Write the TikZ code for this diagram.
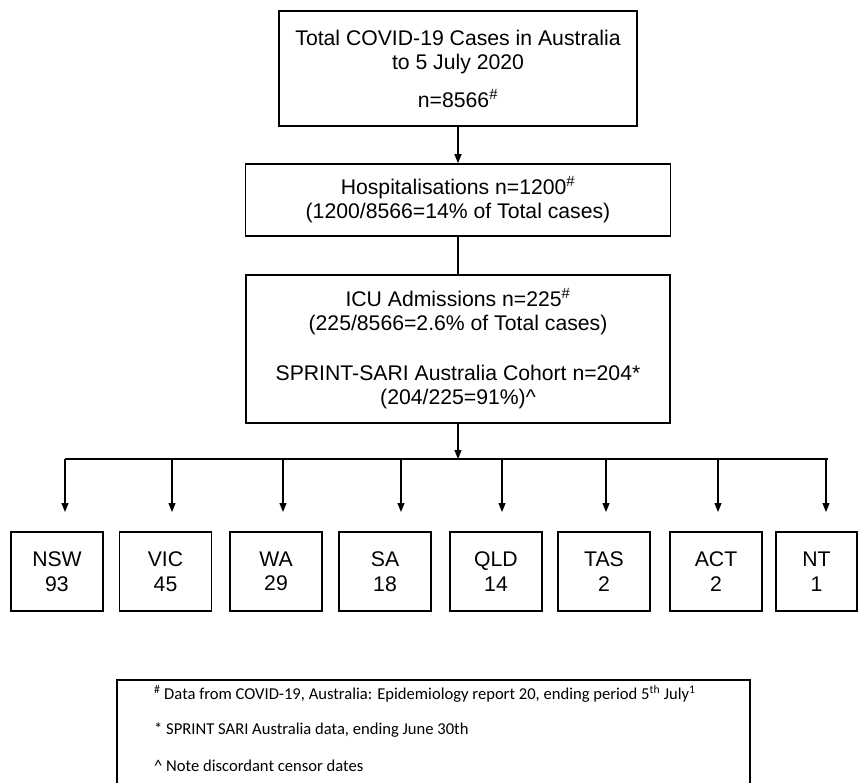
\documentclass[tikz,border=0pt]{standalone}
\usepackage{fontspec}
\setmainfont{Liberation Sans}
\newfontfamily\calib{Carlito}
\usetikzlibrary{arrows.meta}
\begin{document}
\begin{tikzpicture}[x=1pt,y=-1pt,
  box/.style={draw, line width=1.6pt, align=center, inner sep=0pt, font=\fontsize{21.2}{24.5}\selectfont},
  stbox/.style={box, minimum width=92pt, minimum height=79pt},
  conn/.style={line width=1.2pt},
  arr/.style={conn, -{Triangle[width=7pt,length=9pt]}},
  fn/.style={anchor=west, inner sep=0pt, font=\calib\fontsize{16.6}{19}\selectfont}]
\useasboundingbox (0,0) rectangle (858,782);
% main boxes
\node[box, minimum width=358pt, minimum height=115pt] (total) at (458,68.5)
  {Total COVID-19 Cases in Australia\\to 5 July 2020\\[13pt]n=8566\textsuperscript{\#}};
\node[box, minimum width=425pt, minimum height=72pt] (hosp) at (458,200)
  {Hospitalisations n=1200\textsuperscript{\#}\\(1200/8566=14\% of Total cases)};
\node[box, minimum width=424pt, minimum height=148pt] (icu) at (458,349)
  {ICU Admissions n=225\textsuperscript{\#}\\(225/8566=2.6\% of Total cases)\\[25pt]SPRINT-SARI Australia Cohort n=204*\\(204/225=91\%)\textasciicircum};
% state boxes
\node[stbox] (nsw) at (57,571.5) {NSW\\93};
\node[stbox] (vic) at (165.5,571.5) {VIC\\45};
\node[stbox] (wa) at (276,571.5) {WA\\29};
\node[stbox] (sa) at (385,571.5) {SA\\18};
\node[stbox] (qld) at (496,571.5) {QLD\\14};
\node[stbox] (tas) at (604,571.5) {TAS\\2};
\node[stbox] (act) at (716,571.5) {ACT\\2};
\node[stbox, minimum width=81pt] (nt) at (816.5,571.5) {NT\\1};
% connectors
\draw[arr] (total) -- (hosp);
\draw[conn] (hosp) -- (icu);
\coordinate (busM) at (458,459);
\coordinate (busL) at (65,459);
\coordinate (busR) at (828,459);
\draw[arr] (icu) -- (busM);
\draw[conn] (busL) -- (busR);
\foreach \n/\x in {nsw/65, vic/172, wa/283, sa/401, qld/502, tas/606, act/718, nt/826}{
  \coordinate (t\n) at (\x,512);
  \draw[arr] (t\n |- busM) -- (t\n);
}
% notes box
\node[draw, line width=1.6pt, anchor=north, minimum width=633pt, minimum height=140pt, inner sep=0pt] (notes) at (433.5,679) {};
\node[fn] (f1) at (154,694) {\textsuperscript{\#} Data from COVID-19, Australia: Epidemiology report 20, ending period 5\textsuperscript{th} July\textsuperscript{1}};
\node[fn] (f2) at (154,730) {* SPRINT SARI Australia data, ending June 30th};
\node[fn] (f3) at (154,766) {\textasciicircum{} Note discordant censor dates};
\end{tikzpicture}
\end{document}
